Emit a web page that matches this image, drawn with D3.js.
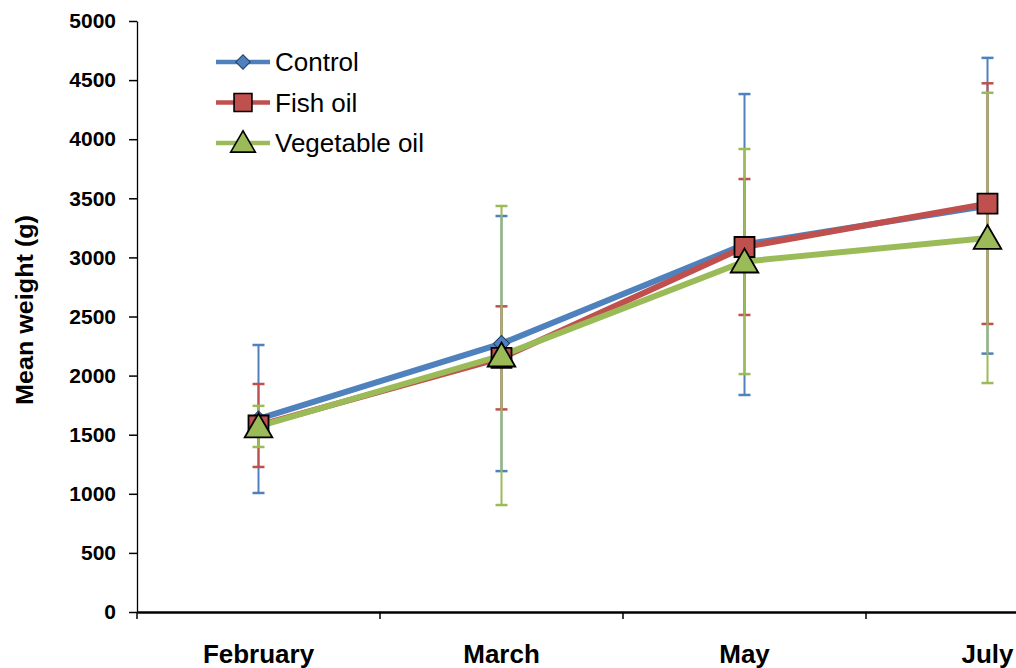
<!DOCTYPE html>
<html>
<head>
<meta charset="utf-8">
<script src="https://cdn.jsdelivr.net/npm/d3@7"></script>
<style>
  body { margin: 0; background: #fff; }
  svg { font-family: "Liberation Sans", Arial, sans-serif; }
</style>
</head>
<body>
<div id="chart"></div>
<script>
// data
var months = ["February", "March", "May", "July"];
var seriesNames = ["Control", "Fish oil", "Vegetable oil"];
var controlMean = [1633, 2271, 3109, 3437];
var controlErr = [626, 1079, 1273, 1251];
var fishMean = [1578, 2150, 3088, 3455];
var fishErr = [351, 436, 575, 1018];
var vegMean = [1570, 2170, 2965, 3165];
var vegErr = [174, 1265, 952, 1228];
var yTicks = [0, 500, 1000, 1500, 2000, 2500, 3000, 3500, 4000, 4500, 5000];

var colors = ["#4F81BD", "#C0504D", "#9BBB59"];
// diamond is a square turned 45 degrees
var shapes = [d3.symbolSquare, d3.symbolSquare, d3.symbolTriangle];
var shapeSize = [130, 400, 330];
var shapeRot = [45, 0, 0];

var series = seriesNames.map(function(name, i) {
  var m = [controlMean, fishMean, vegMean][i];
  var e = [controlErr, fishErr, vegErr][i];
  return {
    name: name,
    color: colors[i],
    values: months.map(function(mo, j) { return {month: mo, mean: m[j], err: e[j]}; })
  };
});

var svgWidth = 1016;
var svgHeight = 668;
var plotLeft = 137, plotTop = 21, plotBottom = 612;

var svg = d3.select("#chart").append("svg")
  .attr("width", svgWidth)
  .attr("height", svgHeight);

// plot extends past the right edge, like the cropped original
var x = d3.scaleBand().domain(months).range([plotLeft, plotLeft + 243 * 4]);
var y = d3.scaleLinear().domain([0, 5000]).range([plotBottom, plotTop]);
var cx = function(d) { return x(d.month) + x.bandwidth() / 2; };

// y axis
var yAxis = svg.append("g")
  .attr("transform", `translate(${plotLeft},0)`)
  .call(d3.axisLeft(y).tickValues(yTicks).tickFormat(d3.format("d"))
    .tickSize(8).tickSizeOuter(0).tickPadding(13));
yAxis.select(".domain").attr("stroke", "#000").attr("stroke-width", 1.3);
yAxis.selectAll(".tick line").attr("stroke", "#000").attr("stroke-width", 1.5);
yAxis.selectAll("text")
  .attr("font-size", 21).attr("font-weight", "bold").attr("fill", "#000")
  .attr("font-family", "Liberation Sans, Arial, sans-serif");

// x axis
var xAxis = svg.append("g")
  .attr("transform", `translate(0,${plotBottom})`)
  .call(d3.axisBottom(x).tickSize(0).tickPadding(33));
xAxis.select(".domain").attr("stroke", "#000").attr("stroke-width", 2.5);
xAxis.selectAll("text")
  .attr("font-size", 26).attr("font-weight", "bold").attr("fill", "#000")
  .attr("font-family", "Liberation Sans, Arial, sans-serif");
// category divider ticks
xAxis.selectAll(".divider")
  .data(months)
  .enter().append("line")
  .attr("x1", d => x(d)).attr("x2", d => x(d))
  .attr("y1", 0).attr("y2", 7)
  .attr("stroke", "#000").attr("stroke-width", 1.5);

// y axis title
svg.append("text")
  .attr("transform", `translate(33,310) rotate(-90)`)
  .attr("text-anchor", "middle")
  .attr("font-size", 23).attr("font-weight", "bold")
  .attr("textLength", 190).attr("lengthAdjust", "spacingAndGlyphs")
  .text("Mean weight (g)");

// error bars
series.forEach(function(s) {
  var g = svg.append("g");
  g.selectAll("line.v").data(s.values).enter().append("line")
    .attr("x1", cx).attr("x2", cx)
    .attr("y1", d => y(d.mean + d.err)).attr("y2", d => y(d.mean - d.err))
    .attr("stroke", s.color).attr("stroke-width", 2);
  [1, -1].forEach(function(sign) {
    g.selectAll("line.c" + sign).data(s.values).enter().append("line")
      .attr("x1", d => cx(d) - 6).attr("x2", d => cx(d) + 6)
      .attr("y1", d => y(d.mean + sign * d.err)).attr("y2", d => y(d.mean + sign * d.err))
      .attr("stroke", s.color).attr("stroke-width", 2.5);
  });
});

// lines
var line = d3.line().x(cx).y(d => y(d.mean));
series.forEach(function(s) {
  svg.append("path")
    .datum(s.values)
    .attr("d", line)
    .attr("fill", "none")
    .attr("stroke", s.color)
    .attr("stroke-width", 6);
});

// markers
series.forEach(function(s, i) {
  svg.append("g").selectAll("path").data(s.values).enter().append("path")
    .attr("transform", d => `translate(${cx(d)},${y(d.mean) + (i == 2 ? 3 : 0)}) rotate(${shapeRot[i]})`)
    .attr("d", d3.symbol().type(shapes[i]).size(shapeSize[i]))
    .attr("fill", s.color)
    .attr("stroke", i == 0 ? "#1f3d66" : "#000")
    .attr("stroke-width", i == 0 ? 1 : 1.8);
});

// legend
var legend = svg.append("g");
series.forEach(function(s, i) {
  var ly = 62 + i * 40.5;
  legend.append("line")
    .attr("x1", 216).attr("x2", 270).attr("y1", ly).attr("y2", ly)
    .attr("stroke", s.color).attr("stroke-width", 4.5);
  legend.append("path")
    .attr("transform", `translate(243,${ly + (i == 2 ? 2 : 0)}) rotate(${shapeRot[i]})`)
    .attr("d", d3.symbol().type(shapes[i]).size(shapeSize[i] * 0.8))
    .attr("fill", s.color)
    .attr("stroke", i == 0 ? "#1f3d66" : "#000")
    .attr("stroke-width", i == 0 ? 1 : 1.6);
  legend.append("text")
    .attr("x", 275).attr("y", ly + 9)
    .attr("font-size", 26)
    .text(s.name);
});
</script>
</body>
</html>
